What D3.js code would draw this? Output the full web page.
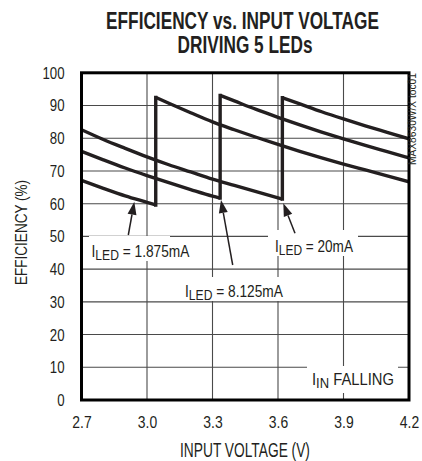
<!DOCTYPE html>
<html><head><meta charset="utf-8">
<script src="https://cdn.jsdelivr.net/npm/d3@7/dist/d3.min.js"></script>
<style>
body{margin:0;background:#fff}
text{font-family:"Liberation Sans",Arimo,"DejaVu Sans",sans-serif;fill:#231f20}
</style></head><body>
<svg id="chart" width="422" height="461"></svg>
<script>
const xTicks=[2.7,3.0,3.3,3.6,3.9,4.2];
const xTickLabels=["2.7","3.0","3.3","3.6","3.9","4.2"];
const yTicks=[0,10,20,30,40,50,60,70,80,90,100];

const vin1875=[2.7,2.8,2.9,3.0,3.04,3.04,3.1,3.2,3.3,3.4,3.5,3.6,3.7,3.8,3.9,4.0,4.1,4.2];
const eff1875=[67.1,64.7,62.4,60.4,59.6,92.5,90.7,87.8,85.0,82.6,80.3,78.1,76.0,74.0,72.1,70.3,68.5,66.7];

const vin8125=[2.7,2.8,2.9,3.0,3.1,3.2,3.3,3.335,3.335,3.4,3.5,3.6,3.7,3.8,3.9,4.0,4.1,4.2];
const eff8125=[76.0,73.4,70.9,68.6,66.4,64.3,62.3,61.7,93.1,91.4,88.8,86.4,84.1,81.9,79.8,77.8,75.9,74.0];

const vin20=[2.7,2.8,2.9,3.0,3.1,3.2,3.3,3.4,3.5,3.62,3.62,3.7,3.8,3.9,4.0,4.1,4.2];
const eff20=[82.6,79.6,76.9,74.3,71.9,69.7,67.5,65.6,63.7,61.4,92.4,90.5,88.1,85.9,83.8,81.8,79.8];

const series=[
  {v:vin1875,e:eff1875},
  {v:vin8125,e:eff8125},
  {v:vin20,e:eff20}
];

const L=81.5,R=409,T=72.8,B=400;
const svg=d3.select("#chart");
const x=d3.scaleLinear().domain([2.7,4.2]).range([L,R]);
const y=d3.scaleLinear().domain([0,100]).range([B,T]);

function squeeze(textSel,s){
  textSel.each(function(){
    const ax=+(this.getAttribute("x")||0);
    d3.select(this).attr("transform",`translate(${ax},0) scale(${s},1) translate(${-ax},0)`);
  });
}
function fitText(px,py,rot,anchor,size,weight,width,build){
  const gg=svg.append("g").attr("transform",`translate(${px},${py}) rotate(${rot})`);
  const t=gg.append("text").attr("text-anchor",anchor).attr("font-size",size).attr("font-weight",weight);
  build(t);
  const w=t.node().getComputedTextLength();
  t.attr("transform",`scale(${width/w},1)`);
  return t;
}

// grid
const g=svg.append("g");
g.selectAll(".vg").data(xTicks.slice(1,-1)).join("line")
  .attr("x1",d=>x(d)).attr("x2",d=>x(d)).attr("y1",T).attr("y2",B)
  .attr("stroke","#4a4a4a").attr("stroke-width",1.1);
g.selectAll(".hg").data(yTicks.slice(1,-1)).join("line")
  .attr("y1",d=>y(d)).attr("y2",d=>y(d)).attr("x1",L).attr("x2",R)
  .attr("stroke","#4a4a4a").attr("stroke-width",1.1);

// label masks
const masks=[[89,236,81,25],[181,277,105,24],[268,230,90,26],[307,366,91,27]];
svg.selectAll(".mask").data(masks).join("rect")
  .attr("x",d=>d[0]).attr("y",d=>d[1]).attr("width",d=>d[2]).attr("height",d=>d[3]).attr("fill","#fff");

// axes
const xAxis=d3.axisBottom(x).tickValues(xTicks).tickFormat((d,i)=>xTickLabels[i]).tickSize(0).tickPadding(16);
const ax=svg.append("g").attr("transform",`translate(0,${B})`).call(xAxis);
ax.select(".domain").remove();
ax.selectAll("text").attr("font-size",17).style("font-family",'"Liberation Sans",Arimo,sans-serif').attr("fill","#231f20");
squeeze(ax.selectAll("text"),0.82);
const yAxis=d3.axisLeft(y).tickValues(yTicks).tickSize(0).tickPadding(17);
const ay=svg.append("g").attr("transform",`translate(${L},0)`).call(yAxis);
ay.select(".domain").remove();
ay.selectAll("text").attr("font-size",17).style("font-family",'"Liberation Sans",Arimo,sans-serif').attr("fill","#231f20");
squeeze(ay.selectAll("text"),0.78);

// data lines
svg.append("clipPath").attr("id","clip").append("rect").attr("x",L).attr("y",T).attr("width",R-L).attr("height",B-T);
const line=d3.line().x(d=>x(d[0])).y(d=>y(d[1])).curve(d3.curveMonotoneX);
const lineG=svg.append("g").attr("clip-path","url(#clip)");
series.forEach(s=>{
  const pts=s.v.map((v,i)=>[v,s.e[i]]);
  const j=pts.findIndex((p,i)=>i>0&&p[0]===pts[i-1][0]);
  [pts.slice(0,j),pts.slice(j)].forEach(seg=>{
    lineG.append("path").attr("d",line(seg)).attr("fill","none")
      .attr("stroke","#231f20").attr("stroke-width",3.4).attr("stroke-linejoin","round");
  });
  lineG.append("line").attr("x1",x(pts[j][0])).attr("x2",x(pts[j][0]))
    .attr("y1",y(pts[j-1][1])).attr("y2",y(pts[j][1]))
    .attr("stroke","#231f20").attr("stroke-width",3.4).attr("stroke-linecap","square");
});

// frame
svg.append("rect").attr("x",L).attr("y",T).attr("width",R-L).attr("height",B-T)
  .attr("fill","none").attr("stroke","#000").attr("stroke-width",3);

// titles
fitText(242.5,28.5,0,"middle",23,"bold",273,t=>t.text("EFFICIENCY vs. INPUT VOLTAGE"));
fitText(245,53,0,"middle",23,"bold",135,t=>t.text("DRIVING 5 LEDs"));
fitText(245,457,0,"middle",20,"normal",130,t=>t.text("INPUT VOLTAGE (V)"));
fitText(27,232.5,-90,"middle",16,"normal",105,t=>t.text("EFFICIENCY (%)"));
fitText(415.5,165,-90,"start",10,"normal",92,t=>t.text("MAX8630W/X toc01"));

// annotations
function label(xp,yp,w,sub,rest){
  fitText(xp,yp,0,"start",17,"normal",w,t=>{
    t.append("tspan").text("I");
    t.append("tspan").attr("font-size",15).attr("dy",3).text(sub);
    t.append("tspan").attr("dy",-3).text(rest);
  });
}
label(91.5,257,98,"LED"," = 1.875mA");
label(185,296.5,98,"LED"," = 8.125mA");
label(275,252,78,"LED"," = 20mA");
label(312,385,82,"IN"," FALLING");

const arrows=[[128.3,235,134.3,201.7],[232.7,265,221,200],[295,233.3,283.3,203.3]];
arrows.forEach(a=>{
  const [x1,y1,x2,y2]=a;
  const ang=Math.atan2(y2-y1,x2-x1);
  const len=13,w=4.5;
  const bx=x2-len*Math.cos(ang), by=y2-len*Math.sin(ang);
  svg.append("line").attr("x1",x1).attr("y1",y1).attr("x2",bx).attr("y2",by)
    .attr("stroke","#231f20").attr("stroke-width",1.5);
  const px=-Math.sin(ang)*w, py=Math.cos(ang)*w;
  svg.append("path").attr("d",`M${x2},${y2}L${bx+px},${by+py}L${bx-px},${by-py}Z`).attr("fill","#231f20");
});
</script></body></html>
